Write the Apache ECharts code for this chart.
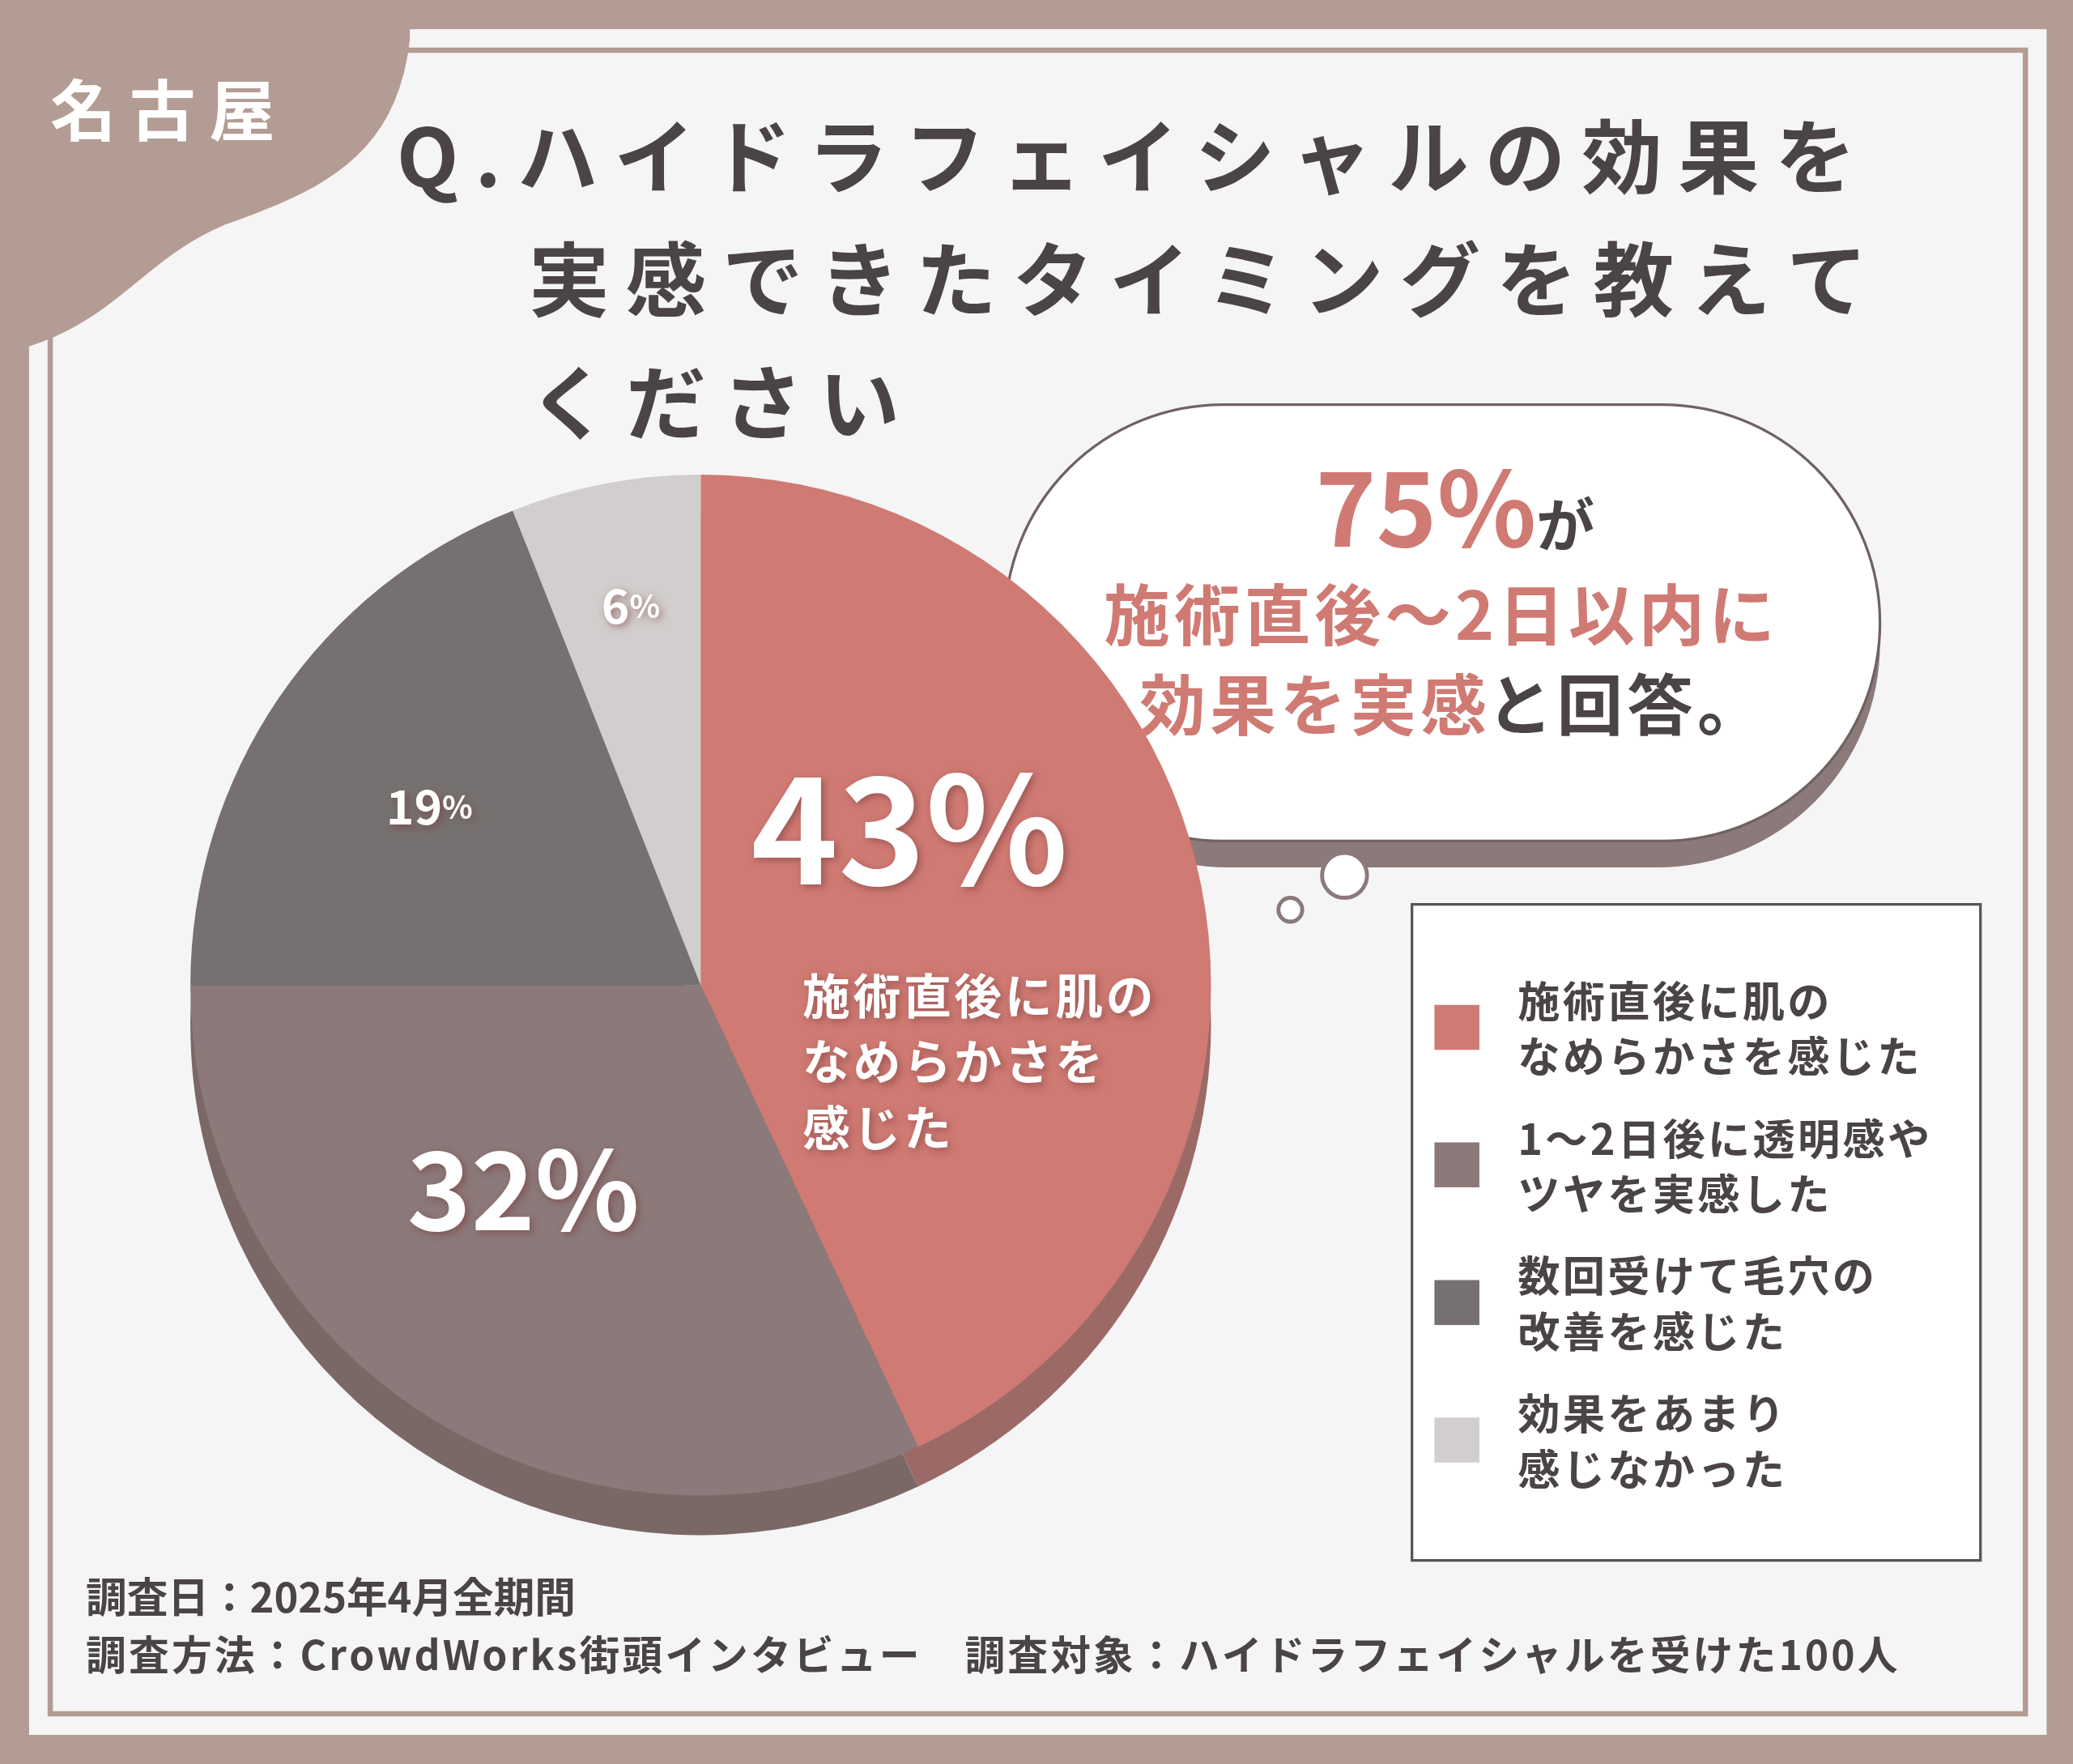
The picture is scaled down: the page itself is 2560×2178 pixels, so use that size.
<!DOCTYPE html>
<html><head><meta charset="utf-8">
<script src="https://cdn.jsdelivr.net/npm/echarts@6/dist/echarts.min.js"></script>
<style>html,body{margin:0;padding:0;background:#b39c94}#c{width:2560px;height:2178px}</style>
</head><body><div id="c"></div>
<script>
const categories = ['施術直後に肌の\nなめらかさを感じた','1〜2日後に透明感や\nツヤを実感した','数回受けて毛穴の\n改善を感じた','効果をあまり\n感じなかった'];
const values = [43, 32, 19, 6];
const colors = ['#cf7a73','#8c7979','#767170','#d2cecd'];
const depthColors = ['#9c6a66','#7a6866','#625d5c','#aaa5a4'];
const title = ['Q.ハイドラフェイシャルの効果を','実感できたタイミングを教えて','ください'];
const footer1 = '調査日：2025年4月全期間';
const footer2 = '調査方法：CrowdWorks街頭インタビュー　調査対象：ハイドラフェイシャルを受けた100人';

const K = 2560/1568;
const s = v => v*K;
const F = '"Noto Sans CJK JP", sans-serif';
const sp = (t,c) => t.split('\n').map(l=>Array.from(l).join(c)).join('\n');
const TH = '\u2009', HS = '\u200A';
const chart = echarts.init(document.getElementById('c'), null, {renderer:'canvas'});
const cx = s(530), cy = s(745), R = s(386);

function bez(p0,p1,p2,p3,n){const out=[];for(let i=0;i<=n;i++){const t=i/n,u=1-t;out.push([u*u*u*p0[0]+3*u*u*t*p1[0]+3*u*t*t*p2[0]+t*t*t*p3[0],u*u*u*p0[1]+3*u*u*t*p1[1]+3*u*t*t*p2[1]+t*t*t*p3[1]]);}return out;}
const blobPts = [[0,0],[310,0]].concat(
  bez([310,30],[300,120],[240,145],[170,170],20),
  bez([170,170],[110,195],[90,240],[22,262],20),
  [[0,262]]).map(p=>[s(p[0]),s(p[1])]);

const g = [];
g.push({type:'rect', z:0, shape:{x:s(22),y:s(22),width:s(1526),height:s(1290)}, style:{fill:'#f6f5f5'}});
g.push({type:'rect', z:1, shape:{x:s(38),y:s(38),width:s(1494),height:s(1258)}, style:{fill:'none',stroke:'#b39c94',lineWidth:s(4)}});
g.push({type:'polygon', z:2, shape:{points:blobPts}, style:{fill:'#b39c94'}});
g.push({type:'text', z:3, left:s(38), top:s(58), style:{text:sp('名古屋',TH), fill:'#fff', font:`bold ${s(50)}px ${F}`}});
title.forEach((t,i)=>g.push({type:'text', z:3, left:s(i?400:300), top:s(88+i*93), style:{text:sp(t,TH), fill:'#4a4444', font:`bold ${s(61)}px ${F}`}}));
g.push({type:'rect', z:3, shape:{x:s(760),y:s(318),width:s(662),height:s(338),r:s(170)}, style:{fill:'#8c7979'}});
g.push({type:'rect', z:4, shape:{x:s(760),y:s(306),width:s(662),height:s(330),r:s(170)}, style:{fill:'#fff',stroke:'#6f6262',lineWidth:s(2)}});
g.push({type:'circle', z:4, shape:{cx:s(1017),cy:s(662),r:s(17)}, style:{fill:'#fff',stroke:'#8c7979',lineWidth:s(3)}});
g.push({type:'circle', z:4, shape:{cx:s(976),cy:s(688),r:s(9)}, style:{fill:'#fff',stroke:'#8c7979',lineWidth:s(3)}});
g.push({type:'text', z:5, left:s(995), top:s(345), style:{text:'{a|75%}{b|が}', rich:{a:{fill:'#cf7a73',font:`bold ${s(78)}px ${F}`},b:{fill:'#4a4444',font:`bold ${s(44)}px ${F}`,padding:[s(25),0,0,0]}}}});
g.push({type:'text', z:5, left:s(835), top:s(440), style:{text:sp('施術直後〜2日以内に',HS), fill:'#cf7a73', font:`bold ${s(50)}px ${F}`}});
g.push({type:'text', z:5, left:s(862), top:s(508), style:{text:'{a|'+sp('効果を実感',HS)+'}{b|'+sp('と回答。',HS)+'}', rich:{a:{fill:'#cf7a73',font:`bold ${s(50)}px ${F}`},b:{fill:'#4a4444',font:`bold ${s(50)}px ${F}`}}}});
const shadow = {textShadowColor:'rgba(120,60,60,0.6)', textShadowBlur:s(6), textShadowOffsetX:s(2), textShadowOffsetY:s(2)};
g.push({type:'text', z:20, left:s(568), top:s(570), style:Object.assign({text:values[0]+'%', fill:'#fff', font:`bold ${s(112)}px ${F}`},shadow)});
g.push({type:'text', z:20, left:s(607), top:s(728), style:Object.assign({text:sp('施術直後に肌の\nなめらかさを\n感じた',HS), fill:'#fff', font:`bold ${s(36)}px ${F}`, lineHeight:s(50)},shadow)});
g.push({type:'text', z:20, left:s(308), top:s(858), style:Object.assign({text:values[1]+'%', fill:'#fff', font:`bold ${s(82)}px ${F}`},shadow)});
g.push({type:'text', z:20, left:s(292), top:s(592), style:Object.assign({text:'{a|'+values[2]+'}{b|%}', rich:{a:{fill:'#fff',font:`bold ${s(36)}px ${F}`},b:{fill:'#fff',font:`bold ${s(24)}px ${F}`}}},shadow)});
g.push({type:'text', z:20, left:s(455), top:s(440), style:Object.assign({text:'{a|'+values[3]+'}{b|%}', rich:{a:{fill:'#fff',font:`bold ${s(36)}px ${F}`},b:{fill:'#fff',font:`bold ${s(24)}px ${F}`}}},shadow)});
g.push({type:'rect', z:3, shape:{x:s(1068),y:s(684),width:s(430),height:s(496)}, style:{fill:'#fff',stroke:'#555',lineWidth:s(2)}});
categories.forEach((c,i)=>{
  const y = s(740+i*104);
  g.push({type:'rect', z:4, shape:{x:s(1085),y:y+s(20),width:s(34),height:s(34)}, style:{fill:colors[i]}});
  g.push({type:'text', z:4, left:s(1148), top:y-s(4), style:{text:sp(c,HS), fill:'#4a4444', font:`bold ${s(32)}px ${F}`, lineHeight:s(42)}});
});
g.push({type:'text', z:3, left:s(65), top:s(1192), style:{text:footer1, fill:'#4a4444', font:`bold ${s(31)}px ${F}`}});
g.push({type:'text', z:3, left:s(65), top:s(1236), style:{text:sp(footer2,HS), fill:'#4a4444', font:`bold ${s(30.5)}px ${F}`}});

const data = values.map((v,i)=>({value:v, name:categories[i], itemStyle:{color:colors[i]}}));
const ddata = values.map((v,i)=>({value:v, name:categories[i], itemStyle:{color:depthColors[i]}}));
chart.setOption({
  animation:false,
  graphic:g,
  series:[
    {type:'pie', z:5, silent:true, center:[cx, cy+s(30)], radius:[0,R], startAngle:90, label:{show:false}, labelLine:{show:false}, data:ddata},
    {type:'pie', z:6, silent:true, center:[cx, cy], radius:[0,R], startAngle:90, label:{show:false}, labelLine:{show:false}, data:data}
  ]
});
</script></body></html>
